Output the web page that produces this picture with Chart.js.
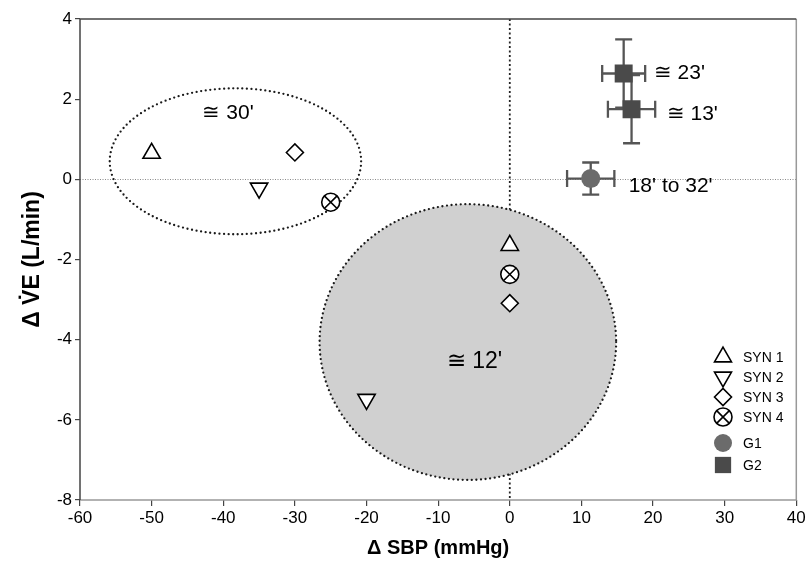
<!DOCTYPE html>
<html>
<head>
<meta charset="utf-8">
<script src="https://cdn.jsdelivr.net/npm/chart.js@4/dist/chart.umd.min.js"></script>
<style>
html,body{margin:0;padding:0;background:#fff;}
#wrap{width:809px;height:563px;position:relative;}
</style>
</head>
<body>
<div id="wrap"><canvas id="c" width="809" height="563"></canvas></div>
<script>
// ---- data ----
const xTicks = [-60, -50, -40, -30, -20, -10, 0, 10, 20, 30, 40];
const yTicks = [-8, -6, -4, -2, 0, 2, 4];

const syn1X = [-50, 0];     const syn1Y = [0.65, -1.65];
const syn2X = [-35, -20];   const syn2Y = [-0.22, -5.49];
const syn3X = [-30, 0];     const syn3Y = [0.67, -3.09];
const syn4X = [-25, 0];     const syn4Y = [-0.57, -2.37];

const g1X = [11.3];  const g1Y = [0.02];  const g1XErr = [3.3]; const g1YErr = [0.4];
const g2X = [15.9, 17.0]; const g2Y = [2.64, 1.75]; const g2XErr = [3.0, 3.3]; const g2YErr = [0.85, 0.85];

// grouping ellipses (data units)
const ellCx = [-38.3, -5.85];
const ellCy = [0.45, -4.06];
const ellRx = [17.55, 20.7];
const ellRy = [1.82, 3.44];
const ellFilled = [false, true];

// annotation labels
const annoText = ["\u2245 30'", "\u2245 12'", "\u2245 23'", "\u2245 13'", "18' to 32'"];
const annoX = [-42.9, -8.8, 20.1, 21.9, 16.6];
const annoY = [1.65, -4.54, 2.64, 1.62, -0.17];

const legendLabels = ["SYN 1", "SYN 2", "SYN 3", "SYN 4", "G1", "G2"];

const pts = (xs, ys) => xs.map((x, i) => ({x: x, y: ys[i]}));
const FONT = "'Liberation Sans', Arial, sans-serif";

const symStyle = {backgroundColor: '#fff', borderColor: '#000', borderWidth: 1.6};

// note: lower index is drawn on top
const datasets = [
  Object.assign({label: 'SYN 1', data: pts(syn1X, syn1Y), pointStyle: 'triangle', pointRadius: 10, pointRotation: 0}, symStyle),
  Object.assign({label: 'SYN 2', data: pts(syn2X, syn2Y), pointStyle: 'triangle', pointRadius: 10, pointRotation: 180}, symStyle),
  Object.assign({label: 'SYN 3', data: pts(syn3X, syn3Y), pointStyle: 'rectRot', pointRadius: 8.5}, symStyle),
  Object.assign({label: 'SYN 4x', data: pts(syn4X, syn4Y), pointStyle: 'crossRot', pointRadius: 9}, symStyle),
  Object.assign({label: 'SYN 4', data: pts(syn4X, syn4Y), pointStyle: 'circle', pointRadius: 9}, symStyle),
  {label: 'G1', data: pts(g1X, g1Y), pointStyle: 'circle', pointRadius: 9.5, backgroundColor: '#6b6b6b', borderColor: '#6b6b6b', borderWidth: 0},
  {label: 'G2', data: pts(g2X, g2Y), pointStyle: 'rect', pointRadius: 12.7, backgroundColor: '#4a4a4a', borderColor: '#4a4a4a', borderWidth: 0}
];

const errSets = [
  {xs: g1X, ys: g1Y, ex: g1XErr, ey: g1YErr},
  {xs: g2X, ys: g2Y, ex: g2XErr, ey: g2YErr}
];

const bgPlugin = {
  id: 'bg',
  beforeDatasetsDraw(chart) {
    const {ctx, chartArea: a, scales: {x, y}} = chart;
    ctx.save();
    ctx.beginPath();
    ctx.rect(a.left, a.top, a.right - a.left, a.bottom - a.top);
    ctx.clip();
    ctx.strokeStyle = '#8a8a8a'; ctx.lineWidth = 1; ctx.setLineDash([1, 1.5]);
    ctx.beginPath(); ctx.moveTo(a.left, Math.round(y.getPixelForValue(0)) + 0.5); ctx.lineTo(a.right, Math.round(y.getPixelForValue(0)) + 0.5); ctx.stroke();
    ctx.strokeStyle = '#222'; ctx.lineWidth = 1.8; ctx.setLineDash([2, 2.5]);
    ctx.beginPath(); ctx.moveTo(x.getPixelForValue(0), a.top); ctx.lineTo(x.getPixelForValue(0), a.bottom); ctx.stroke();
    for (let i = 0; i < ellCx.length; i++) {
      const cx = x.getPixelForValue(ellCx[i]), cy = y.getPixelForValue(ellCy[i]);
      const rx = Math.abs(x.getPixelForValue(ellCx[i] + ellRx[i]) - cx);
      const ry = Math.abs(y.getPixelForValue(ellCy[i] + ellRy[i]) - cy);
      ctx.beginPath(); ctx.ellipse(cx, cy, rx, ry, 0, 0, Math.PI * 2);
      if (ellFilled[i]) { ctx.setLineDash([]); ctx.fillStyle = '#d0d0d0'; ctx.fill(); }
      ctx.setLineDash([0, 4.6]); ctx.lineCap = 'round'; ctx.lineWidth = 2.3; ctx.strokeStyle = '#1a1a1a';
      ctx.stroke();
      ctx.lineCap = 'butt';
    }
    ctx.setLineDash([]); ctx.strokeStyle = '#555'; ctx.lineWidth = 2.3;
    const cap = 8.5;
    errSets.forEach(s => {
      s.xs.forEach((xv, i) => {
        const px = x.getPixelForValue(xv), py = y.getPixelForValue(s.ys[i]);
        const x0 = x.getPixelForValue(xv - s.ex[i]), x1 = x.getPixelForValue(xv + s.ex[i]);
        const y0 = y.getPixelForValue(s.ys[i] + s.ey[i]), y1 = y.getPixelForValue(s.ys[i] - s.ey[i]);
        ctx.beginPath();
        ctx.moveTo(x0, py); ctx.lineTo(x1, py);
        ctx.moveTo(x0, py - cap); ctx.lineTo(x0, py + cap);
        ctx.moveTo(x1, py - cap); ctx.lineTo(x1, py + cap);
        ctx.moveTo(px, y0); ctx.lineTo(px, y1);
        ctx.moveTo(px - cap, y0); ctx.lineTo(px + cap, y0);
        ctx.moveTo(px - cap, y1); ctx.lineTo(px + cap, y1);
        ctx.stroke();
      });
    });
    ctx.restore();
  },
  afterDatasetsDraw(chart) {
    const {ctx, chartArea: a, scales: {x, y}} = chart;
    ctx.save();
    ctx.lineWidth = 1.5;
    ctx.strokeStyle = '#999';
    ctx.beginPath(); ctx.moveTo(a.left, a.bottom); ctx.lineTo(a.right, a.bottom); ctx.lineTo(a.right, a.top); ctx.stroke();
    ctx.strokeStyle = '#444';
    ctx.beginPath(); ctx.moveTo(a.left, a.bottom); ctx.lineTo(a.left, a.top); ctx.lineTo(a.right, a.top); ctx.stroke();
    ctx.fillStyle = '#000'; ctx.textBaseline = 'middle'; ctx.textAlign = 'left';
    annoText.forEach((t, i) => {
      ctx.font = (i === 1 ? '23px ' : '21px ') + FONT;
      ctx.fillText(t, x.getPixelForValue(annoX[i]), y.getPixelForValue(annoY[i]));
    });
    const lx = 723, tx = 743;
    const rows = [357, 377, 397, 417, 443, 465];
    const legendDs = [0, 1, 2, [4, 3], 5, 6];
    legendDs.forEach((d, i) => {
      const ids = Array.isArray(d) ? d : [d];
      ids.forEach(k => {
        const ds = chart.data.datasets[k];
        ctx.fillStyle = ds.backgroundColor; ctx.strokeStyle = ds.borderColor;
        ctx.lineWidth = ds.borderWidth;
        let r = ds.pointRadius;
        if (ds.pointStyle === 'triangle') r = 9.8;
        if (ds.pointStyle === 'rect') r = 11.5;
        if (ds.pointStyle === 'circle' && k === 5) r = 9;
        Chart.helpers.drawPoint(ctx, {pointStyle: ds.pointStyle, radius: r, rotation: ds.pointRotation || 0, borderWidth: ds.borderWidth}, lx, rows[i]);
      });
      ctx.fillStyle = '#000'; ctx.font = '14px ' + FONT; ctx.textAlign = 'left'; ctx.textBaseline = 'middle';
      ctx.fillText(legendLabels[i], tx, rows[i] + 1);
    });
    ctx.restore();
  }
};

new Chart(document.getElementById('c'), {
  type: 'scatter',
  data: {datasets: datasets},
  options: {
    responsive: false,
    animation: false,
    devicePixelRatio: 1,
    layout: {padding: {top: 19, right: 11, left: 0, bottom: 0}},
    plugins: {legend: {display: false}, tooltip: {enabled: false}},
    scales: {
      x: {
        type: 'linear', min: -60, max: 40,
        afterBuildTicks: s => { s.ticks = xTicks.map(v => ({value: v})); },
        afterFit: s => { s.height = 63; },
        ticks: {color: '#000', font: {family: FONT, size: 17}, padding: 2, maxRotation: 0},
        grid: {drawOnChartArea: false, tickLength: 6, color: '#444', lineWidth: 1.2},
        border: {display: false},
        title: {display: true, text: '\u0394 SBP (mmHg)', color: '#000', font: {family: FONT, size: 20, weight: 'bold'}, padding: 3}
      },
      y: {
        type: 'linear', min: -8, max: 4,
        afterBuildTicks: s => { s.ticks = yTicks.map(v => ({value: v})); },
        afterFit: s => { s.width = 80; },
        ticks: {color: '#000', font: {family: FONT, size: 17}, padding: 3},
        grid: {drawOnChartArea: false, tickLength: 5, color: '#444', lineWidth: 1.2},
        border: {display: false},
        title: {display: true, text: '\u0394 V\u0307E (L/min)', color: '#000', font: {family: FONT, size: 23, weight: 'bold'}, padding: 19}
      }
    }
  },
  plugins: [bgPlugin]
});
</script>
</body>
</html>
